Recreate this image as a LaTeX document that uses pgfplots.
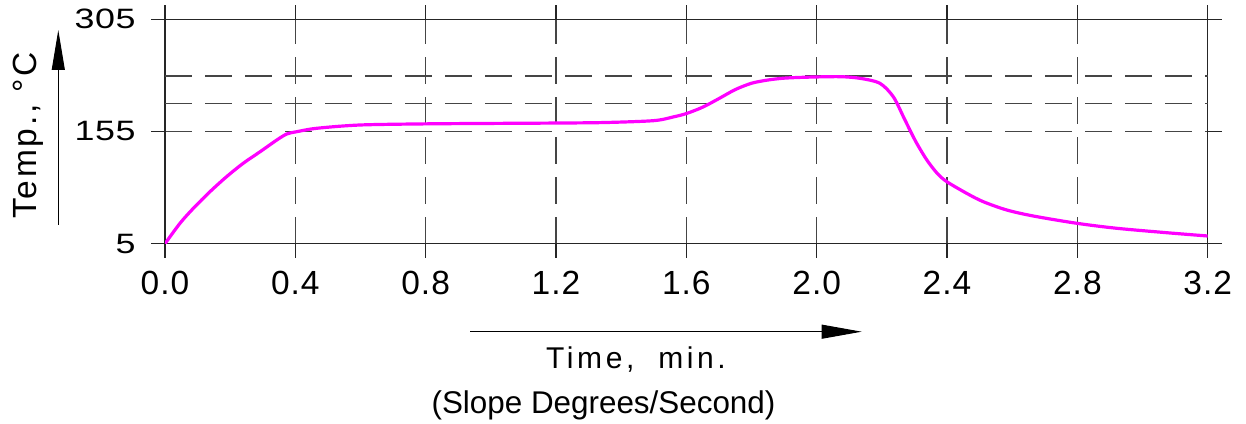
\documentclass[border=0pt]{standalone}
\usepackage{fontspec}
\setmainfont{Liberation Sans}
\newfontfamily\tickfont[LetterSpace=3]{Liberation Sans}
\newfontfamily\yfont[FakeStretch=1.28,LetterSpace=2]{Liberation Sans}
\newfontfamily\labfont[LetterSpace=8]{Liberation Sans}
\newfontfamily\timefont[LetterSpace=12]{Liberation Sans}
\newcommand\ytickfont{\yfont\fontsize{14pt}{16pt}\selectfont}
\usepackage{pgfplots}
\pgfplotsset{compat=1.18}
\usetikzlibrary{arrows.meta}
\definecolor{curve}{HTML}{FF00FF}
\definecolor{gridgray}{HTML}{454545}

% reflow profile
\pgfplotstableread{
t T
0.000 5
0.046 32.3
0.087 52.3
0.138 74.5
0.189 94.6
0.240 112.5
0.292 128.0
0.343 143.6
0.374 151.7
0.404 154.7
0.466 159.3
0.599 163.7
0.800 165.2
1.000 165.8
1.200 166.3
1.350 167.0
1.500 169.5
1.560 174.5
1.600 179.0
1.650 187.5
1.700 199.0
1.750 211.0
1.800 219.5
1.850 223.8
1.900 226.3
1.970 227.6
2.070 228.3
2.133 226.1
2.194 219.4
2.235 201.5
2.266 174.8
2.286 157.0
2.307 139.2
2.338 116.9
2.370 99.0
2.399 88.0
2.460 72.4
2.511 61.2
2.583 50.1
2.665 42.0
2.798 32.3
2.921 25.6
3.074 19.7
3.200 15.3
}\profile

\begin{document}
\begin{tikzpicture}
\path[use as bounding box] (0,0) rectangle (623pt,211.5pt);
\begin{axis}[
  at={(82.5pt,89.65pt)}, anchor=south west,
  scale only axis, width=521.35pt, height=112.2pt,
  xmin=0, xmax=3.2, ymin=5, ymax=305,
  xtick={0,0.4,0.8,1.2,1.6,2.0,2.4,2.8,3.2},
  xticklabels={0.0,0.4,0.8,1.2,1.6,2.0,2.4,2.8,3.2},
  ytick={5,155,305}, yticklabels={5,155,305},
  extra y ticks={192.5,229}, extra y tick labels={},
  extra y tick style={major tick length=0pt},
  grid=major,
  major grid style={gridgray, line width=0.7pt, dash pattern=on 13.5pt off 6.5pt},
  axis line style={black!85, line width=0.6pt},
  tick style={black!85, line width=0.6pt},
  tick align=outside, major tick length=7pt,
  xticklabel style={font={\tickfont\fontsize{16.75pt}{18pt}\selectfont}, anchor=base, inner sep=0pt, yshift=-18.6pt},
  yticklabel style={font=\ytickfont, anchor=east, inner sep=0pt, xshift=-7.5pt},
]
\addplot[curve, line width=1.6pt, smooth, tension=0.5] table[x=t, y=T] {\profile};
\end{axis}
\node[rotate=90, anchor=base, font={\labfont\fontsize{16.75pt}{18pt}\selectfont}] at (18.35pt,143.75pt) {Temp.,~°C};
\draw[line width=0.5pt, -{Triangle[length=20pt,width=6.5pt]}] (29.15pt,99pt) -- (29.15pt,196.5pt);
\draw[line width=0.5pt, -{Triangle[length=20pt,width=7pt]}] (235pt,45.65pt) -- (430.85pt,45.65pt);
\node[anchor=base, font={\timefont\fontsize{15pt}{17pt}\selectfont}] at (318pt,27.5pt) {Time,~~min.};
\node[anchor=base, font={\fontsize{15.7pt}{17pt}\selectfont}] at (301.75pt,4.85pt) {(Slope Degrees/Second)};
\end{tikzpicture}
\end{document}
